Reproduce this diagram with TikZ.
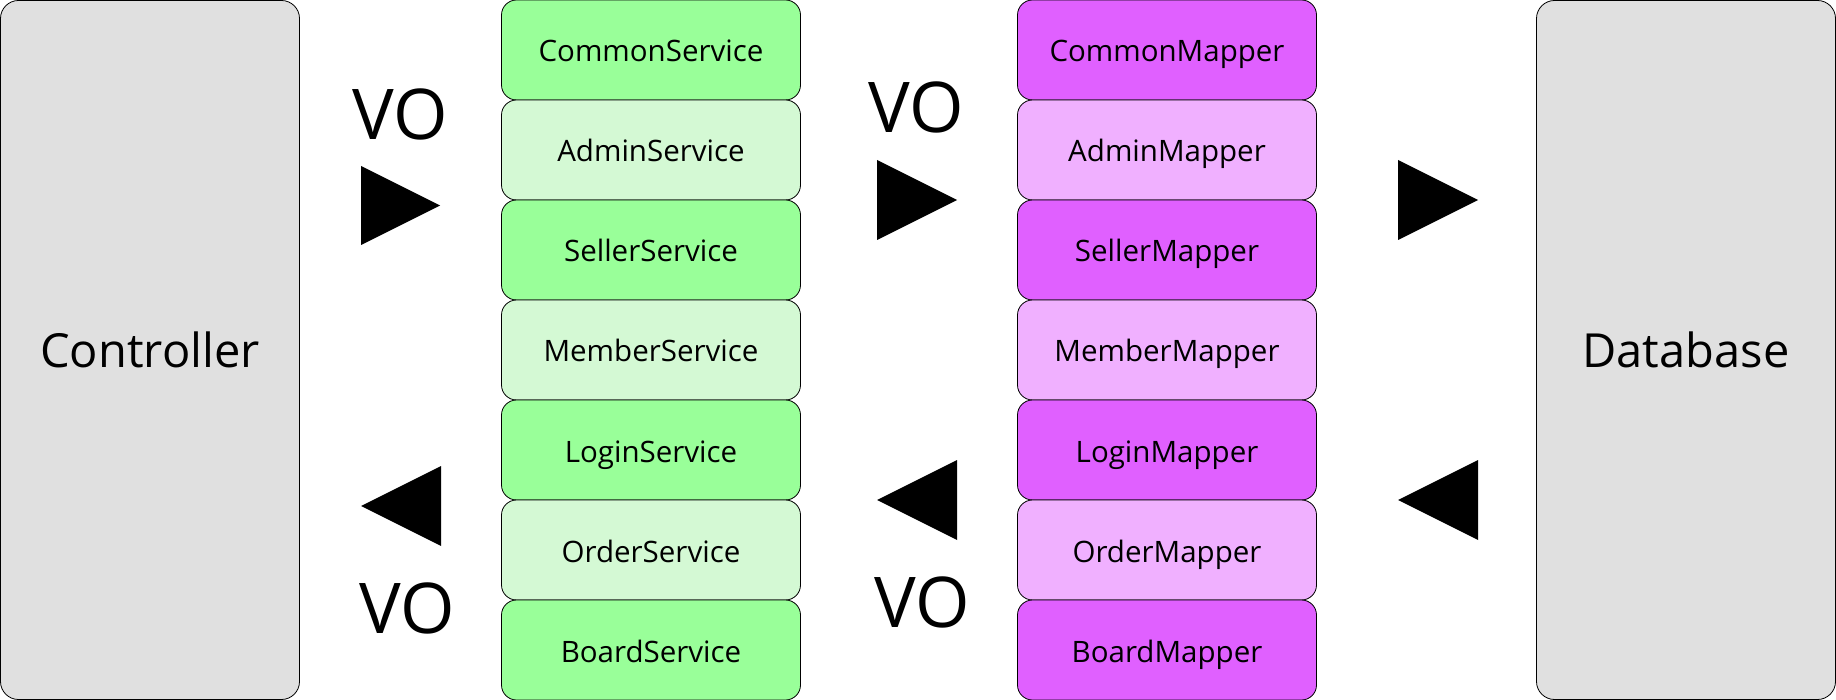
\documentclass[tikz,border=0pt]{standalone}
\usepackage{fontspec}
\setmainfont{Open Sans}
\definecolor{layergray}{RGB}{224,224,224}
\definecolor{svcdark}{RGB}{153,255,153}
\definecolor{svclight}{RGB}{212,249,212}
\definecolor{mapdark}{RGB}{224,96,255}
\definecolor{maplight}{RGB}{240,176,255}
\begin{document}
\begin{tikzpicture}[x=1pt,y=-1pt,
    layer/.style={draw=black,line width=0.8pt,fill=layergray,rounded corners=18pt,
      minimum width=299pt,minimum height=699pt,inner sep=0pt,
      font=\fontsize{47}{56}\selectfont},
    unit/.style={draw=black,line width=0.8pt,rounded corners=15pt,
      minimum width=299pt,minimum height=100pt,inner sep=0pt,
      text height=26pt,text depth=2pt,
      font=\fontsize{29.5}{35}\selectfont},
    vo/.style={anchor=base,inner sep=0pt,font=\fontsize{70}{84}\selectfont}]
    \useasboundingbox (0,0) rectangle (1836,700);
    \node [layer] (ctrl) at (150,350) {Controller};
    \node [layer] (db) at (1686,350) {Database};
    \node [unit,fill=svcdark] (svc1) at (651,50) {CommonService};
    \node [unit,fill=svclight] (svc2) at (651,150) {AdminService};
    \node [unit,fill=svcdark] (svc3) at (651,250) {SellerService};
    \node [unit,fill=svclight] (svc4) at (651,350) {MemberService};
    \node [unit,fill=svcdark] (svc5) at (651,450) {LoginService};
    \node [unit,fill=svclight] (svc6) at (651,550) {OrderService};
    \node [unit,fill=svcdark] (svc7) at (651,650) {BoardService};
    \node [unit,fill=mapdark] (map1) at (1167,50) {CommonMapper};
    \node [unit,fill=maplight] (map2) at (1167,150) {AdminMapper};
    \node [unit,fill=mapdark] (map3) at (1167,250) {SellerMapper};
    \node [unit,fill=maplight] (map4) at (1167,350) {MemberMapper};
    \node [unit,fill=mapdark] (map5) at (1167,450) {LoginMapper};
    \node [unit,fill=maplight] (map6) at (1167,550) {OrderMapper};
    \node [unit,fill=mapdark] (map7) at (1167,650) {BoardMapper};
    % request direction
    \node [vo] (voreq1) at (400,140) {VO};
    \fill [black] (361,166) -- (361,245) -- (440,205.5) -- cycle;
    \node [vo] (voreq2) at (916,133) {VO};
    \fill [black] (877,160) -- (877,240) -- (957,200) -- cycle;
    \fill [black] (1398,160) -- (1398,240) -- (1478,200) -- cycle;
    % response direction
    \fill [black] (441,466) -- (441,546) -- (361,506) -- cycle;
    \node [vo] (voresp1) at (407,633) {VO};
    \fill [black] (957,460) -- (957,540) -- (877,500) -- cycle;
    \node [vo] (voresp2) at (922,627) {VO};
    \fill [black] (1478,460) -- (1478,540) -- (1398,500) -- cycle;
\end{tikzpicture}
\end{document}
